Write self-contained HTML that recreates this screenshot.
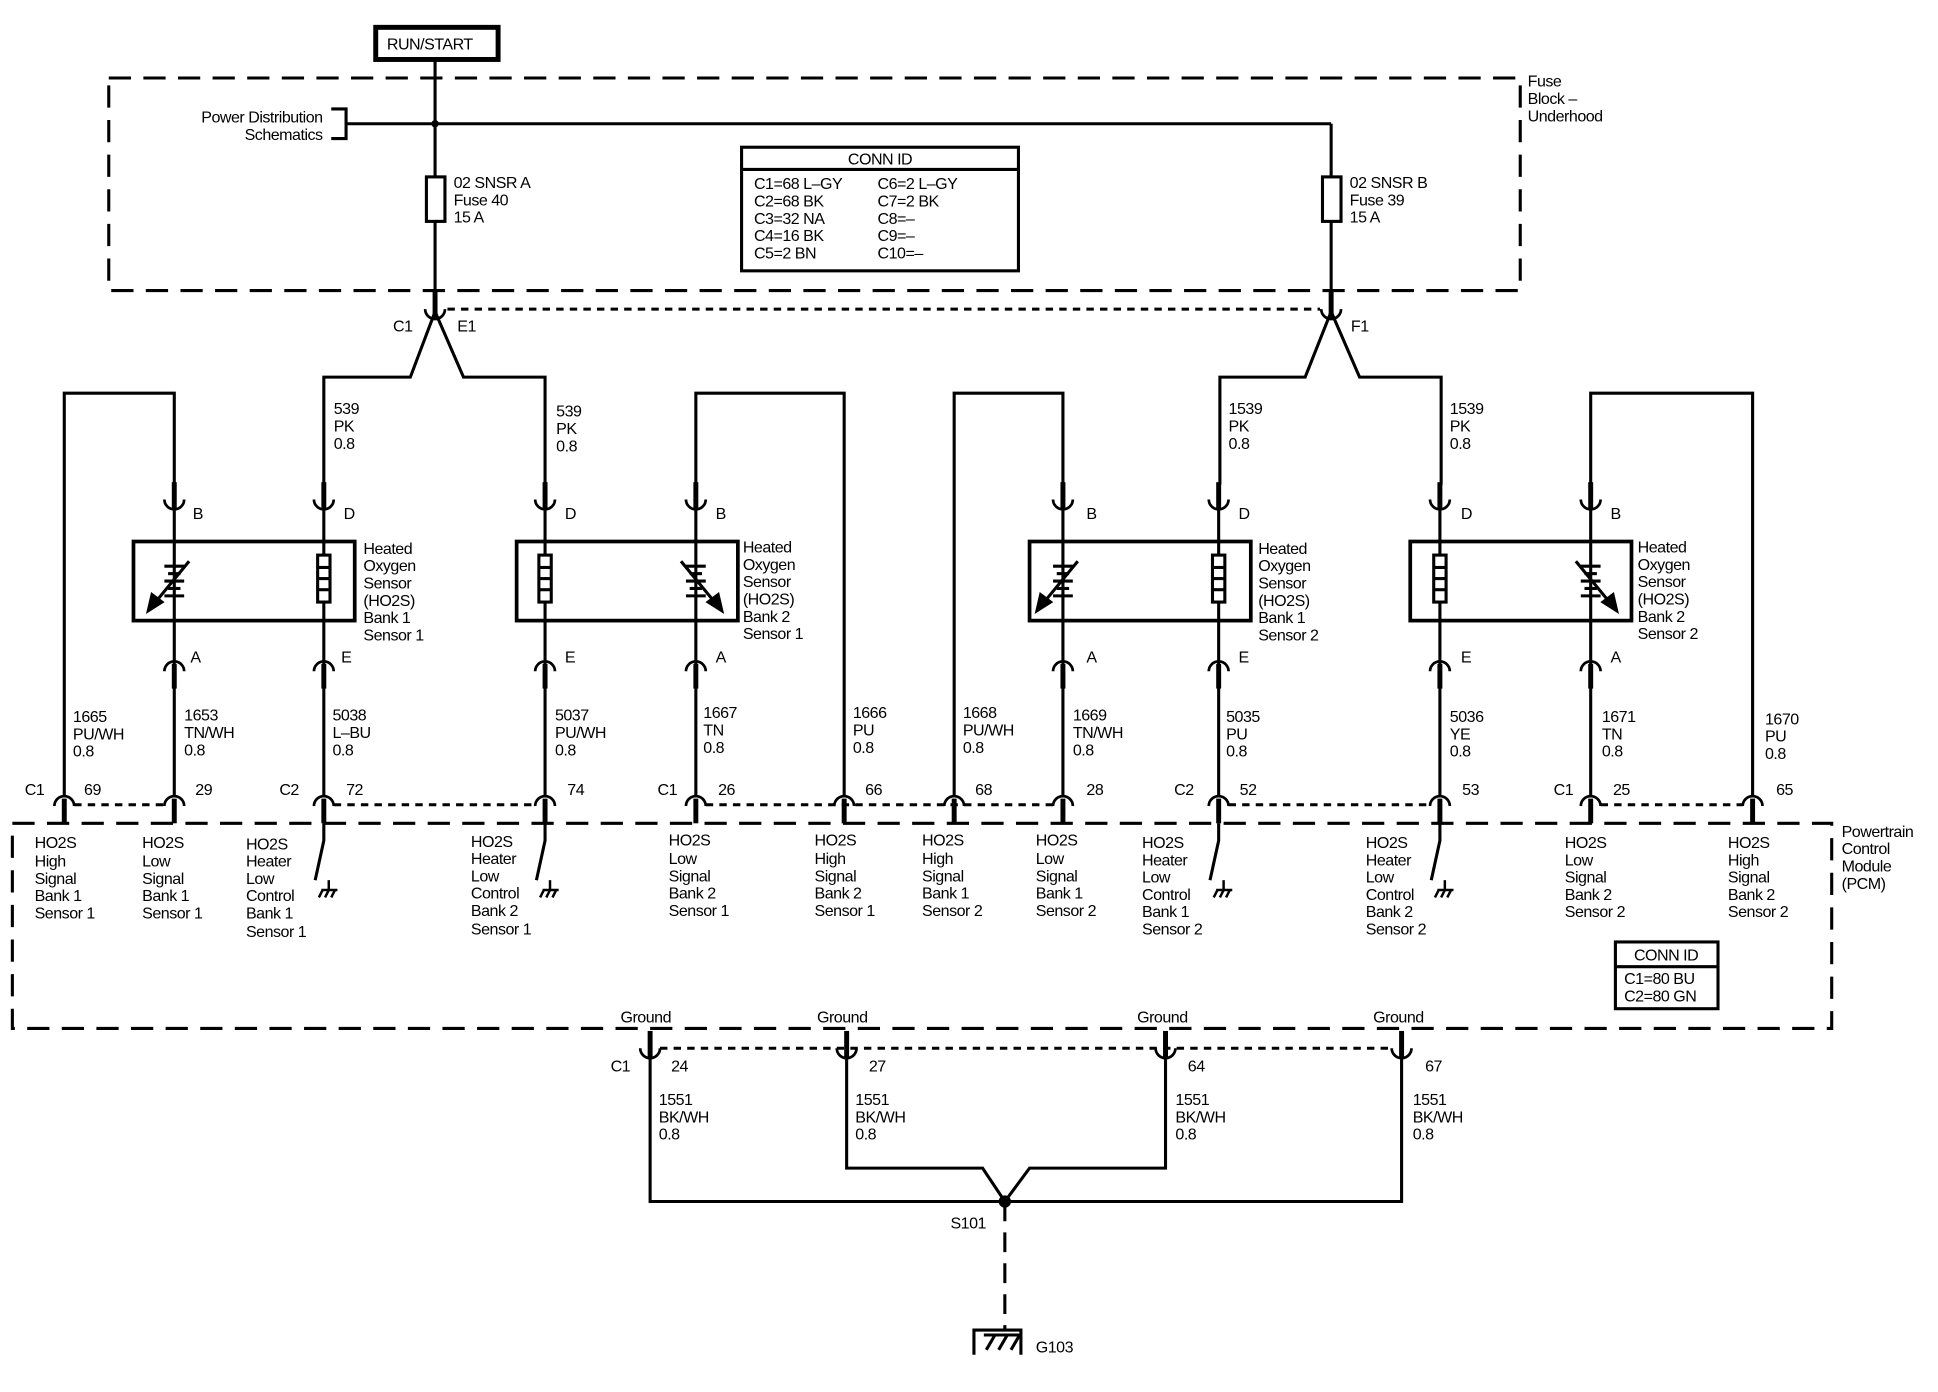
<!DOCTYPE html>
<html><head><meta charset="utf-8"><style>
html,body{margin:0;padding:0;background:#fff}
svg{display:block}
text{font-family:"Liberation Sans",sans-serif;font-size:13px;fill:#000;letter-spacing:-0.4px}
</style></head><body>
<svg width="1938" height="1392" viewBox="0 0 1568 1126" xmlns="http://www.w3.org/2000/svg">
<defs>
<g id="cu" stroke="#000" fill="none"><path d="M-8,0 a8,8 0 0 0 16,0" stroke-width="2.2"/><line x1="0" y1="-14" x2="0" y2="7" stroke-width="4"/></g>
<g id="cap" stroke="#000" fill="none"><path d="M-8,0 a8,8 0 0 1 16,0" stroke-width="2.2"/><line x1="0" y1="-6" x2="0" y2="14" stroke-width="4"/></g>
<g id="htr" stroke="#000" fill="none" stroke-width="2.5"><rect x="-5" y="-19" width="10" height="38" fill="#fff"/><line x1="-5" y1="-9" x2="5" y2="-9"/><line x1="-5" y1="0" x2="5" y2="0"/><line x1="-5" y1="9" x2="5" y2="9"/></g>
<g id="sig" stroke="#000" fill="none" stroke-width="2.5"><line x1="-8" y1="-12" x2="8" y2="-12"/><line x1="-5" y1="-6" x2="5" y2="-6"/><line x1="-8" y1="0" x2="8" y2="0"/><line x1="-5" y1="6" x2="5" y2="6"/><line x1="-8" y1="12" x2="8" y2="12"/><line x1="12" y1="-16" x2="-16" y2="18"/><path d="M-21,24 L-18,11 L-10,17 Z" fill="#000"/></g>
<g id="gnd" stroke="#000" fill="none" stroke-width="2"><line x1="0" y1="0" x2="0" y2="8"/><line x1="-6" y1="8" x2="7" y2="8"/><line x1="-5" y1="8" x2="-8" y2="14"/><line x1="0" y1="8" x2="-3" y2="14"/><line x1="5" y1="8" x2="2" y2="14"/></g>
</defs>

<g stroke="#000" fill="none" stroke-width="2.5">
<!-- RUN/START -->
<rect x="304" y="22" width="99" height="26" stroke-width="4"/>
<!-- fuse block dashed -->
<rect x="88" y="63" width="1142" height="172" stroke-dasharray="18,10"/>
<line x1="352" y1="48" x2="352" y2="243"/>
<line x1="280" y1="100" x2="1077" y2="100"/>
<line x1="1077" y1="100" x2="1077" y2="243"/>
<path d="M268,88 H280 V112 H268"/>
<rect x="345" y="143" width="15" height="36" fill="#fff"/>
<rect x="1070" y="143" width="15" height="36" fill="#fff"/>
<!-- conn id box -->
<rect x="600" y="119" width="224" height="100"/>
<line x1="600" y1="137" x2="824" y2="137"/>
<!-- fuse output connectors dotted -->
<line x1="362" y1="250" x2="1068" y2="250" stroke-dasharray="6,5"/>
<!-- forks -->
<path d="M352,252 L332,305 H262 V392"/>
<path d="M352,252 L375,305 H441 V392"/>
<path d="M1077,252 L1056,305 H987 V392"/>
<path d="M1077,252 L1100,305 H1166 V392"/>
<!-- loops -->
<path d="M52,645 V318 H141 V392"/>
<path d="M563,392 V318 H683 V645"/>
<path d="M772,645 V318 H860 V392"/>
<path d="M1287,392 V318 H1418 V645"/>
<!-- box to sensors -->
<line x1="141" y1="404" x2="141" y2="540"/><line x1="262" y1="404" x2="262" y2="540"/>
<line x1="441" y1="404" x2="441" y2="540"/><line x1="563" y1="404" x2="563" y2="540"/>
<line x1="860" y1="404" x2="860" y2="540"/><line x1="986" y1="404" x2="986" y2="540"/>
<line x1="1165" y1="404" x2="1165" y2="540"/><line x1="1287" y1="404" x2="1287" y2="540"/>
<!-- wires to PCM -->
<line x1="141" y1="556" x2="141" y2="645"/><line x1="262" y1="556" x2="262" y2="645"/>
<line x1="441" y1="556" x2="441" y2="645"/><line x1="563" y1="556" x2="563" y2="645"/>
<line x1="860" y1="556" x2="860" y2="645"/><line x1="986" y1="556" x2="986" y2="645"/>
<line x1="1165" y1="556" x2="1165" y2="645"/><line x1="1287" y1="556" x2="1287" y2="645"/>
<!-- sensor boxes -->
<rect x="108" y="438" width="179" height="64" fill="none" stroke-width="3"/>
<rect x="418" y="438" width="179" height="64" fill="none" stroke-width="3"/>
<rect x="833" y="438" width="179" height="64" fill="none" stroke-width="3"/>
<rect x="1141" y="438" width="179" height="64" fill="none" stroke-width="3"/>
<!-- PCM dotted lines -->
<line x1="60" y1="651" x2="133" y2="651" stroke-dasharray="6,5"/>
<line x1="270" y1="651" x2="433" y2="651" stroke-dasharray="6,5"/>
<line x1="571" y1="651" x2="852" y2="651" stroke-dasharray="6,5"/>
<line x1="994" y1="651" x2="1157" y2="651" stroke-dasharray="6,5"/>
<line x1="1295" y1="651" x2="1410" y2="651" stroke-dasharray="6,5"/>
<!-- PCM dashed -->
<rect x="10" y="666" width="1472" height="166" stroke-dasharray="18,10"/>
<!-- switches -->
<path d="M262,666 V680 L255,712"/>
<path d="M441,666 V680 L434,712"/>
<path d="M986,666 V680 L979,712"/>
<path d="M1165,666 V680 L1158,712"/>
<!-- PCM conn id -->
<rect x="1307" y="762" width="83" height="54"/>
<line x1="1307" y1="782" x2="1390" y2="782"/>
<!-- ground dotted -->
<line x1="534" y1="848" x2="1126" y2="848" stroke-dasharray="6,5"/>
<!-- ground wires -->
<path d="M526,852 V972 H1134 V852"/>
<path d="M685,852 V945 H795 L813,972"/>
<path d="M943,852 V945 H833 L813,972"/>
<line x1="813" y1="972" x2="813" y2="1075" stroke-dasharray="16,9"/>
<path d="M788,1096 V1076 H826 V1096"/>
<line x1="798" y1="1092" x2="805" y2="1080"/><line x1="808" y1="1092" x2="815" y2="1080"/><line x1="818" y1="1092" x2="825" y2="1080"/>
<line x1="796" y1="1080" x2="826" y2="1080"/>
</g>
<circle cx="352" cy="100" r="3"/>
<circle cx="813" cy="972" r="5"/>

<use href="#cu" x="352" y="250"/><use href="#cu" x="1077" y="250"/>
<use href="#cu" x="141" y="404"/><use href="#cu" x="262" y="404"/><use href="#cu" x="441" y="404"/><use href="#cu" x="563" y="404"/>
<use href="#cu" x="860" y="404"/><use href="#cu" x="986" y="404"/><use href="#cu" x="1165" y="404"/><use href="#cu" x="1287" y="404"/>
<use href="#cap" x="141" y="543"/><use href="#cap" x="262" y="543"/><use href="#cap" x="441" y="543"/><use href="#cap" x="563" y="543"/>
<use href="#cap" x="860" y="543"/><use href="#cap" x="986" y="543"/><use href="#cap" x="1165" y="543"/><use href="#cap" x="1287" y="543"/>
<use href="#cap" x="52" y="652"/><use href="#cap" x="141" y="652"/><use href="#cap" x="262" y="652"/><use href="#cap" x="441" y="652"/>
<use href="#cap" x="563" y="652"/><use href="#cap" x="683" y="652"/><use href="#cap" x="772" y="652"/><use href="#cap" x="860" y="652"/>
<use href="#cap" x="986" y="652"/><use href="#cap" x="1165" y="652"/><use href="#cap" x="1287" y="652"/><use href="#cap" x="1418" y="652"/>
<use href="#cu" x="526" y="848"/><use href="#cu" x="685" y="848"/><use href="#cu" x="943" y="848"/><use href="#cu" x="1134" y="848"/>
<use href="#htr" x="262" y="468"/><use href="#htr" x="441" y="468"/><use href="#htr" x="986" y="468"/><use href="#htr" x="1165" y="468"/>
<use href="#sig" x="141" y="470"/><use href="#sig" transform="translate(563,470) scale(-1,1)"/>
<use href="#sig" x="860" y="470"/><use href="#sig" transform="translate(1287,470) scale(-1,1)"/>
<use href="#gnd" x="266" y="712"/><use href="#gnd" x="445" y="712"/><use href="#gnd" x="990" y="712"/><use href="#gnd" x="1169" y="712"/>

<text x="313" y="40" font-size="14">RUN/START</text>
<text x="261" y="99" text-anchor="end">Power Distribution</text>
<text x="261" y="113" text-anchor="end">Schematics</text>
<text x="367" y="152">02 SNSR A</text><text x="367" y="166">Fuse 40</text><text x="367" y="180">15 A</text>
<text x="1092" y="152">02 SNSR B</text><text x="1092" y="166">Fuse 39</text><text x="1092" y="180">15 A</text>
<text x="1236" y="70">Fuse</text><text x="1236" y="84">Block –</text><text x="1236" y="98">Underhood</text>
<text x="712" y="133" text-anchor="middle">CONN ID</text>
<text x="610" y="153">C1=68 L–GY</text><text x="610" y="167">C2=68 BK</text><text x="610" y="181">C3=32 NA</text><text x="610" y="195">C4=16 BK</text><text x="610" y="209">C5=2 BN</text>
<text x="710" y="153">C6=2 L–GY</text><text x="710" y="167">C7=2 BK</text><text x="710" y="181">C8=–</text><text x="710" y="195">C9=–</text><text x="710" y="209">C10=–</text>
<text x="318" y="268">C1</text><text x="370" y="268">E1</text><text x="1093" y="268">F1</text>

<text x="270" y="335">539</text><text x="270" y="349">PK</text><text x="270" y="363">0.8</text>
<text x="450" y="337">539</text><text x="450" y="351">PK</text><text x="450" y="365">0.8</text>
<text x="994" y="335">1539</text><text x="994" y="349">PK</text><text x="994" y="363">0.8</text>
<text x="1173" y="335">1539</text><text x="1173" y="349">PK</text><text x="1173" y="363">0.8</text>

<text x="156" y="420">B</text><text x="278" y="420">D</text><text x="457" y="420">D</text><text x="579" y="420">B</text>
<text x="879" y="420">B</text><text x="1002" y="420">D</text><text x="1182" y="420">D</text><text x="1303" y="420">B</text>
<text x="154" y="536">A</text><text x="276" y="536">E</text><text x="457" y="536">E</text><text x="579" y="536">A</text>
<text x="879" y="536">A</text><text x="1002" y="536">E</text><text x="1182" y="536">E</text><text x="1303" y="536">A</text>

<g>
<text x="294" y="448">Heated</text><text x="294" y="462">Oxygen</text><text x="294" y="476">Sensor</text><text x="294" y="490">(HO2S)</text><text x="294" y="504">Bank 1</text><text x="294" y="518">Sensor 1</text>
<text x="601" y="447">Heated</text><text x="601" y="461">Oxygen</text><text x="601" y="475">Sensor</text><text x="601" y="489">(HO2S)</text><text x="601" y="503">Bank 2</text><text x="601" y="517">Sensor 1</text>
<text x="1018" y="448">Heated</text><text x="1018" y="462">Oxygen</text><text x="1018" y="476">Sensor</text><text x="1018" y="490">(HO2S)</text><text x="1018" y="504">Bank 1</text><text x="1018" y="518">Sensor 2</text>
<text x="1325" y="447">Heated</text><text x="1325" y="461">Oxygen</text><text x="1325" y="475">Sensor</text><text x="1325" y="489">(HO2S)</text><text x="1325" y="503">Bank 2</text><text x="1325" y="517">Sensor 2</text>
</g>

<g>
<text x="59" y="584">1665</text><text x="59" y="598">PU/WH</text><text x="59" y="612">0.8</text>
<text x="149" y="583">1653</text><text x="149" y="597">TN/WH</text><text x="149" y="611">0.8</text>
<text x="269" y="583">5038</text><text x="269" y="597">L–BU</text><text x="269" y="611">0.8</text>
<text x="449" y="583">5037</text><text x="449" y="597">PU/WH</text><text x="449" y="611">0.8</text>
<text x="569" y="581">1667</text><text x="569" y="595">TN</text><text x="569" y="609">0.8</text>
<text x="690" y="581">1666</text><text x="690" y="595">PU</text><text x="690" y="609">0.8</text>
<text x="779" y="581">1668</text><text x="779" y="595">PU/WH</text><text x="779" y="609">0.8</text>
<text x="868" y="583">1669</text><text x="868" y="597">TN/WH</text><text x="868" y="611">0.8</text>
<text x="992" y="584">5035</text><text x="992" y="598">PU</text><text x="992" y="612">0.8</text>
<text x="1173" y="584">5036</text><text x="1173" y="598">YE</text><text x="1173" y="612">0.8</text>
<text x="1296" y="584">1671</text><text x="1296" y="598">TN</text><text x="1296" y="612">0.8</text>
<text x="1428" y="586">1670</text><text x="1428" y="600">PU</text><text x="1428" y="614">0.8</text>
</g>

<g>
<text x="20" y="643">C1</text><text x="68" y="643">69</text><text x="158" y="643">29</text>
<text x="226" y="643">C2</text><text x="280" y="643">72</text><text x="459" y="643">74</text>
<text x="532" y="643">C1</text><text x="581" y="643">26</text><text x="700" y="643">66</text>
<text x="789" y="643">68</text><text x="879" y="643">28</text>
<text x="950" y="643">C2</text><text x="1003" y="643">52</text><text x="1183" y="643">53</text>
<text x="1257" y="643">C1</text><text x="1305" y="643">25</text><text x="1437" y="643">65</text>
</g>

<g>
<text x="28" y="686">HO2S</text><text x="28" y="701">High</text><text x="28" y="715">Signal</text><text x="28" y="729">Bank 1</text><text x="28" y="743">Sensor 1</text>
<text x="115" y="686">HO2S</text><text x="115" y="701">Low</text><text x="115" y="715">Signal</text><text x="115" y="729">Bank 1</text><text x="115" y="743">Sensor 1</text>
<text x="199" y="687">HO2S</text><text x="199" y="701">Heater</text><text x="199" y="715">Low</text><text x="199" y="729">Control</text><text x="199" y="743">Bank 1</text><text x="199" y="758">Sensor 1</text>
<text x="381" y="685">HO2S</text><text x="381" y="699">Heater</text><text x="381" y="713">Low</text><text x="381" y="727">Control</text><text x="381" y="741">Bank 2</text><text x="381" y="756">Sensor 1</text>
<text x="541" y="684">HO2S</text><text x="541" y="699">Low</text><text x="541" y="713">Signal</text><text x="541" y="727">Bank 2</text><text x="541" y="741">Sensor 1</text>
<text x="659" y="684">HO2S</text><text x="659" y="699">High</text><text x="659" y="713">Signal</text><text x="659" y="727">Bank 2</text><text x="659" y="741">Sensor 1</text>
<text x="746" y="684">HO2S</text><text x="746" y="699">High</text><text x="746" y="713">Signal</text><text x="746" y="727">Bank 1</text><text x="746" y="741">Sensor 2</text>
<text x="838" y="684">HO2S</text><text x="838" y="699">Low</text><text x="838" y="713">Signal</text><text x="838" y="727">Bank 1</text><text x="838" y="741">Sensor 2</text>
<text x="924" y="686">HO2S</text><text x="924" y="700">Heater</text><text x="924" y="714">Low</text><text x="924" y="728">Control</text><text x="924" y="742">Bank 1</text><text x="924" y="756">Sensor 2</text>
<text x="1105" y="686">HO2S</text><text x="1105" y="700">Heater</text><text x="1105" y="714">Low</text><text x="1105" y="728">Control</text><text x="1105" y="742">Bank 2</text><text x="1105" y="756">Sensor 2</text>
<text x="1266" y="686">HO2S</text><text x="1266" y="700">Low</text><text x="1266" y="714">Signal</text><text x="1266" y="728">Bank 2</text><text x="1266" y="742">Sensor 2</text>
<text x="1398" y="686">HO2S</text><text x="1398" y="700">High</text><text x="1398" y="714">Signal</text><text x="1398" y="728">Bank 2</text><text x="1398" y="742">Sensor 2</text>
</g>
<text x="1490" y="677">Powertrain</text><text x="1490" y="691">Control</text><text x="1490" y="705">Module</text><text x="1490" y="719">(PCM)</text>
<text x="1348" y="777" text-anchor="middle">CONN ID</text>
<text x="1314" y="796">C1=80 BU</text><text x="1314" y="810">C2=80 GN</text>

<text x="502" y="827">Ground</text><text x="661" y="827">Ground</text><text x="920" y="827">Ground</text><text x="1111" y="827">Ground</text>
<text x="494" y="867">C1</text><text x="543" y="867">24</text><text x="703" y="867">27</text><text x="961" y="867">64</text><text x="1153" y="867">67</text>
<text x="533" y="894">1551</text><text x="533" y="908">BK/WH</text><text x="533" y="922">0.8</text>
<text x="692" y="894">1551</text><text x="692" y="908">BK/WH</text><text x="692" y="922">0.8</text>
<text x="951" y="894">1551</text><text x="951" y="908">BK/WH</text><text x="951" y="922">0.8</text>
<text x="1143" y="894">1551</text><text x="1143" y="908">BK/WH</text><text x="1143" y="922">0.8</text>
<text x="769" y="994">S101</text>
<text x="838" y="1094">G103</text>
</svg>
</body></html>
